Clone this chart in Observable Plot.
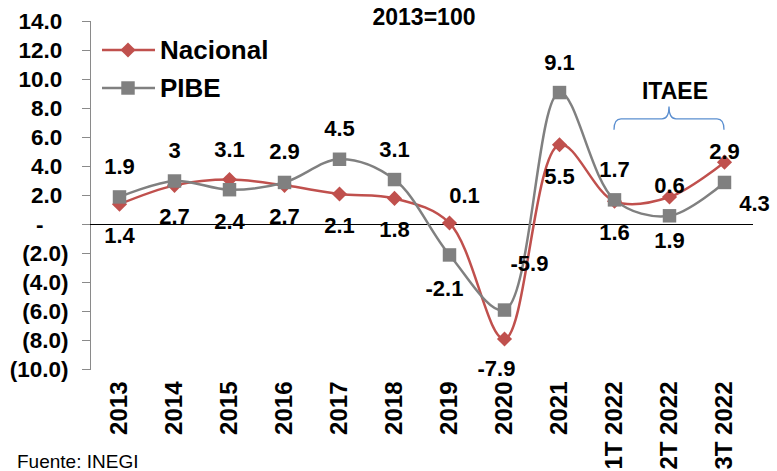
<!DOCTYPE html>
<html><head><meta charset="utf-8">
<script src="https://cdn.jsdelivr.net/npm/d3@7"></script>
<script src="https://cdn.jsdelivr.net/npm/@observablehq/plot@0.6"></script>
<style>
html,body{margin:0;padding:0;background:#fff;overflow:hidden;}
#chart{position:relative;width:777px;height:471px;overflow:hidden;}
svg{font-family:"Liberation Sans",Arial,sans-serif;}
</style></head><body><div id="chart"></div>
<script>
const categories = ["2013","2014","2015","2016","2017","2018","2019","2020","2021","1T 2022","2T 2022","3T 2022"];
const nacional = [1.4,2.7,3.1,2.7,2.1,1.8,0.1,-7.9,5.5,1.6,1.9,4.3];
const pibe = [1.9,3.0,2.4,2.9,4.5,3.1,-2.1,-5.9,9.1,1.7,0.6,2.9];
const upperLabels = ["1.9","3","3.1","2.9","4.5","3.1","0.1","-5.9","9.1","1.7","0.6","2.9"];
const lowerLabels = ["1.4","2.7","2.4","2.7","2.1","1.8","-2.1","-7.9","5.5","1.6","1.9","4.3"];
const yTicks = [-10,-8,-6,-4,-2,0,2,4,6,8,10,12,14];
const seriesNames = ["Nacional","PIBE"];
const titleText = "2013=100";
const bracketLabel = "ITAEE";
const bracketCategories = ["1T 2022","2T 2022","3T 2022"];
const sourceText = "Fuente: INEGI";

const RED = "#C0504D", GRAY = "#808080", BLUE = "#5B8FD0";
const FONT = '"Liberation Sans", Arial, sans-serif';

const rows = categories.flatMap((c, i) => [
  {cat: c, serie: seriesNames[0], v: nacional[i]},
  {cat: c, serie: seriesNames[1], v: pibe[i]}
]);

// label offsets (placement only)
const offsets = {
  "2019": {up: [15, -27], lo: [-5, 34]},
  "2020": {up: [25, -46], lo: [-8, 30]},
  "2T 2022": {up: [0, -11], lo: [0, 25]},
  "3T 2022": {up: [0, -10], lo: [30, 22]}
};
const labelRows = categories.flatMap((c, i) => {
  const hi = Math.max(nacional[i], pibe[i]), lo = Math.min(nacional[i], pibe[i]);
  const o = offsets[c] || {};
  const up = o.up || [0, -30], dn = o.lo || [0, 32];
  return [
    {cat: c, v: hi, text: upperLabels[i], dx: up[0], dy: up[1]},
    {cat: c, v: lo, text: lowerLabels[i], dx: dn[0], dy: dn[1]}
  ];
});

const fmt = d => d === 0 ? "-\u2008\u2007\u2008" : d < 0 ? `(${Math.abs(d).toFixed(1)})` : d.toFixed(1) + "\u2008";

const nacRows = rows.filter(d => d.serie === seriesNames[0]);
const pibRows = rows.filter(d => d.serie === seriesNames[1]);

const plot = Plot.plot({
  width: 777, height: 500,
  marginLeft: 90, marginRight: 24, marginTop: 21, marginBottom: 131,
  style: {fontFamily: FONT, background: "transparent", color: "#000", overflow: "visible"},
  x: {type: "point", domain: categories, padding: 0.5, label: null},
  y: {domain: [-10, 14], label: null},
  marks: [
    Plot.axisY({ticks: yTicks, tickSize: 8, tickPadding: 14, tickFormat: fmt, stroke: "#8a8a8a", fill: "#000", fontSize: 22.5, fontWeight: "bold"}),
    Plot.frame({anchor: "left", stroke: "#8a8a8a"}),
    Plot.axisX({tickSize: 0, tickRotate: -90, tickPadding: 12, fill: "#000", fontSize: 24, fontWeight: "bold", label: null}),
    Plot.ruleY([0], {stroke: "#000", strokeWidth: 1.2}),
    Plot.line(nacRows, {x: "cat", y: "v", stroke: RED, strokeWidth: 2.5, curve: "catmull-rom"}),
    Plot.dot(nacRows, {x: "cat", y: "v", symbol: "diamond2", r: 6.8, fill: RED, stroke: "none"}),
    Plot.line(pibRows, {x: "cat", y: "v", stroke: GRAY, strokeWidth: 2.5, curve: "catmull-rom"}),
    Plot.dot(pibRows, {x: "cat", y: "v", symbol: "square", r: 7.6, fill: GRAY, stroke: "none"}),
    ...labelRows.map(r => Plot.text([r], {x: "cat", y: "v", text: "text", dx: r.dx, dy: r.dy, fontSize: 22, fontWeight: "bold", fill: "#000"}))
  ]
});

const svg = d3.select(plot);
const xs = plot.scale("x"), ys = plot.scale("y");

// title
svg.append("text").attr("x", 424).attr("y", 17).attr("dy", "0.35em").attr("text-anchor", "middle")
  .attr("font-size", 23).attr("font-weight", "bold").attr("font-family", FONT).text(titleText);

// legend
const leg = svg.append("g").attr("font-family", FONT).attr("text-anchor", "start");
[[RED, "diamond", 50], [GRAY, "square", 88]].forEach(([col, sym, y], i) => {
  leg.append("line").attr("x1", 102).attr("x2", 155).attr("y1", y).attr("y2", y).attr("stroke", col).attr("stroke-width", 2.5);
  if (sym === "diamond") {
    leg.append("path").attr("d", d3.symbol(d3.symbolDiamond2, Math.PI * 6.8 * 6.8)()).attr("transform", `translate(128,${y})`).attr("fill", col);
  } else {
    leg.append("path").attr("d", d3.symbol(d3.symbolSquare, Math.PI * 7.6 * 7.6)()).attr("transform", `translate(128,${y})`).attr("fill", col);
  }
  leg.append("text").attr("x", 160).attr("y", y).attr("dy", "0.36em").attr("text-anchor", "start").attr("font-size", 26).attr("font-weight", "bold").text(seriesNames[i]);
});

// bracket
const bx1 = xs.apply(bracketCategories[0]), bxm = xs.apply(bracketCategories[1]), bx2 = xs.apply(bracketCategories[2]);
const yEnd = ys.apply(6.5), yMid = ys.apply(7.25), yTip = ys.apply(8.1);
const r = 7;
svg.append("path")
  .attr("d", `M${bx1},${yEnd} Q${bx1},${yMid} ${bx1 + r},${yMid} L${bxm - r},${yMid} Q${bxm},${yMid} ${bxm},${yTip} Q${bxm},${yMid} ${bxm + r},${yMid} L${bx2 - r},${yMid} Q${bx2},${yMid} ${bx2},${yEnd}`)
  .attr("fill", "none").attr("stroke", BLUE).attr("stroke-width", 1.3);
svg.append("text").attr("x", bxm + 6).attr("y", ys.apply(9.2)).attr("dy", "0.35em").attr("text-anchor", "middle")
  .attr("font-size", 23).attr("font-weight", "bold").attr("font-family", FONT).text(bracketLabel);

// source
svg.append("text").attr("x", 17).attr("y", 468).attr("text-anchor", "start").attr("font-size", 19).attr("font-family", FONT).text(sourceText);

document.getElementById("chart").appendChild(plot);
</script>
</body></html>
